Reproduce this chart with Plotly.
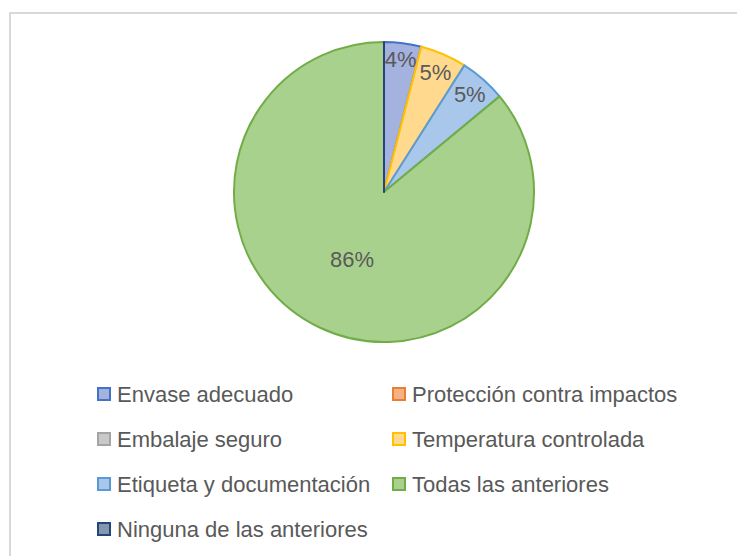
import plotly.graph_objects as go

categories = [
    "Envase adecuado",
    "Protección contra impactos",
    "Embalaje seguro",
    "Temperatura controlada",
    "Etiqueta y documentación",
    "Todas las anteriores",
    "Ninguna de las anteriores",
]
values = [4, 0, 0, 5, 5, 86, 0]

fill_colors = ["#A4B2DF", "#F4B183", "#C9C9C9", "#FFD98E", "#A9C7EA", "#A9D18E", "#8497B0"]
line_colors = ["#4472C4", "#ED7D31", "#A5A5A5", "#FFC000", "#5B9BD5", "#70AD47", "#264478"]

W, H = 745, 556
OFF = 8  # page body margin
TEXT = "#595959"
FONT = "Liberation Sans"

def px(x):
    return (x - OFF) / W

def py(y):
    return 1 - (y - OFF) / H

# Hide the percentage label of zero-value slices (as Excel does)
text_templates = ["%{percent:.0%}" if v > 0 else "" for v in values]

fig = go.Figure()
fig.add_trace(go.Pie(
    labels=categories,
    values=values,
    sort=False,
    direction="clockwise",
    rotation=0,
    marker=dict(colors=fill_colors, line=dict(color=line_colors, width=2)),
    texttemplate=text_templates,
    textposition="inside",
    insidetextorientation="horizontal",
    textfont=dict(family=FONT, size=22, color=TEXT),
    domain=dict(x=[px(234), px(534)], y=[py(342), py(42)]),
    showlegend=False,
    hoverinfo="label+percent",
))

shapes = [
    dict(type="rect", xref="paper", yref="paper",
         x0=px(10), x1=px(780), y0=py(600), y1=py(13),
         line=dict(color="#D9D9D9", width=2), fillcolor="rgba(0,0,0,0)", layer="below")
]
annotations = []
col_x = [97, 392]
row_y0, row_dy = 394, 45
for i, name in enumerate(categories):
    c, r = i % 2, i // 2
    x = col_x[c]
    y = row_y0 + r * row_dy
    shapes.append(dict(type="rect", xref="paper", yref="paper",
                       x0=px(x + 1), x1=px(x + 13), y0=py(y + 6), y1=py(y - 6),
                       fillcolor=fill_colors[i], line=dict(color=line_colors[i], width=2)))
    annotations.append(dict(xref="paper", yref="paper", x=px(x + 18), y=py(y),
                            xanchor="left", yanchor="middle", showarrow=False,
                            text=name, font=dict(family=FONT, size=22, color=TEXT)))

fig.update_layout(
    width=W, height=H,
    margin=dict(l=0, r=0, t=0, b=0),
    paper_bgcolor="white",
    plot_bgcolor="white",
    shapes=shapes,
    annotations=annotations,
    font=dict(family=FONT, color=TEXT),
    uniformtext=dict(minsize=22, mode="show"),
)

fig.write_html("out.html")
